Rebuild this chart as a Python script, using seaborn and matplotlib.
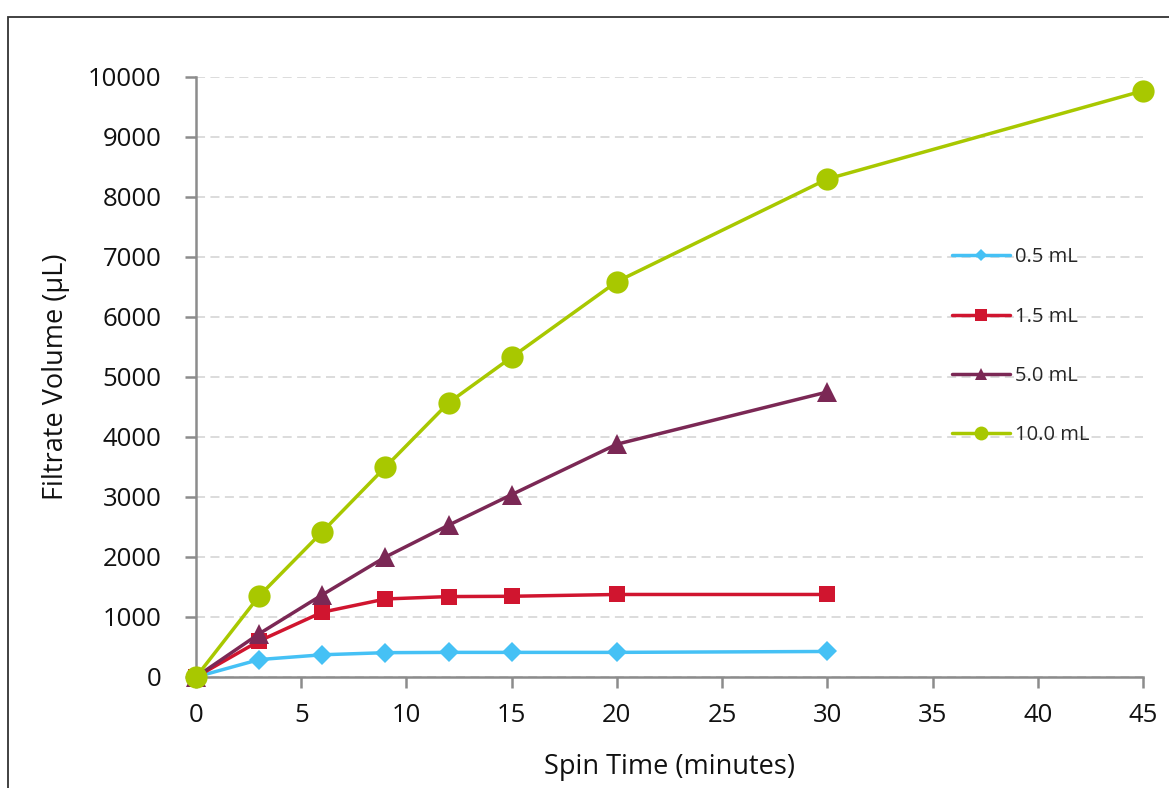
import pandas as pd
import seaborn as sns
import matplotlib.pyplot as plt
from matplotlib.lines import Line2D
from matplotlib.patches import Rectangle

# Spin time (minutes) and filtrate volume (uL) per starting volume
time_short = [0, 3, 6, 9, 12, 15, 20, 30]
time_long = [0, 3, 6, 9, 12, 15, 20, 30, 45]
vol_05 = [0, 290, 370, 405, 410, 410, 410, 425]
vol_15 = [0, 600, 1080, 1300, 1340, 1345, 1375, 1375]
vol_50 = [0, 720, 1370, 2000, 2530, 3040, 3880, 4750]
vol_100 = [0, 1350, 2420, 3500, 4570, 5330, 6590, 8300, 9770]

labels = ['0.5 mL', '1.5 mL', '5.0 mL', '10.0 mL']
colors = ['#45C1F5', '#D0152F', '#7B2855', '#A8C800']
markers = ['D', 's', '^', 'o']
marker_sizes = [10, 11.5, 14, 16]
legend_sizes = [6, 9, 9, 10]

frames = []
for lab, t, v in zip(labels, [time_short] * 3 + [time_long],
                     [vol_05, vol_15, vol_50, vol_100]):
    frames.append(pd.DataFrame({'time': t, 'volume': v, 'series': lab}))
df = pd.concat(frames, ignore_index=True)

sns.set_style('white')
plt.rcParams['font.family'] = ['Open Sans', 'DejaVu Sans']

fig = plt.figure(figsize=(11.69, 7.88), dpi=100)
ax = fig.add_axes([0.1677, 0.1409, 0.8101, 0.7614])

# outer frame
fig.patches.append(Rectangle((8 / 1169, -0.1), 1.2, 1.1 - 17 / 788,
                             transform=fig.transFigure, fill=False,
                             edgecolor='#333333', linewidth=1.3))

for lab, col, mk, ms in zip(labels, colors, markers, marker_sizes):
    sub = df[df['series'] == lab]
    sns.lineplot(data=sub, x='time', y='volume', ax=ax, color=col,
                 marker=mk, markersize=ms, markeredgewidth=0,
                 linewidth=2.5, legend=False, clip_on=False, zorder=3)

ax.set_xlim(0, 45)
ax.set_ylim(0, 10000)
ax.set_xticks(range(0, 46, 5))
ax.set_yticks(range(0, 10001, 1000))
ax.yaxis.grid(True, color='#d9d9d9', linestyle=(0, (5, 3)), linewidth=1.3)
ax.set_axisbelow(True)

for side in ['top', 'right']:
    ax.spines[side].set_visible(False)
for side in ['left', 'bottom']:
    ax.spines[side].set_color('#8c8c8c')
    ax.spines[side].set_linewidth(1.8)

ax.tick_params(axis='both', direction='out', length=8, width=1.8,
               bottom=True, left=True,
               color='#8c8c8c', labelsize=18.5, labelcolor='#111111', pad=11)
ax.tick_params(axis='y', pad=17)
ax.set_xlabel('Spin Time (minutes)', fontsize=19.5, color='#111111', labelpad=18)
ax.set_ylabel('Filtrate Volume (µL)', fontsize=19.5, color='#111111', labelpad=13)

handles = [Line2D([0], [0], color=c, marker=m, markersize=s, linewidth=2.5,
                  markeredgewidth=0)
           for c, m, s in zip(colors, markers, legend_sizes)]
ax.legend(handles, labels, loc='upper left', bbox_to_anchor=(0.798, 0.716),
          frameon=False, fontsize=14.5, handlelength=2.9, handletextpad=0.25,
          labelspacing=1.95, borderaxespad=0, borderpad=0)

fig.savefig('out.png', dpi=100)
